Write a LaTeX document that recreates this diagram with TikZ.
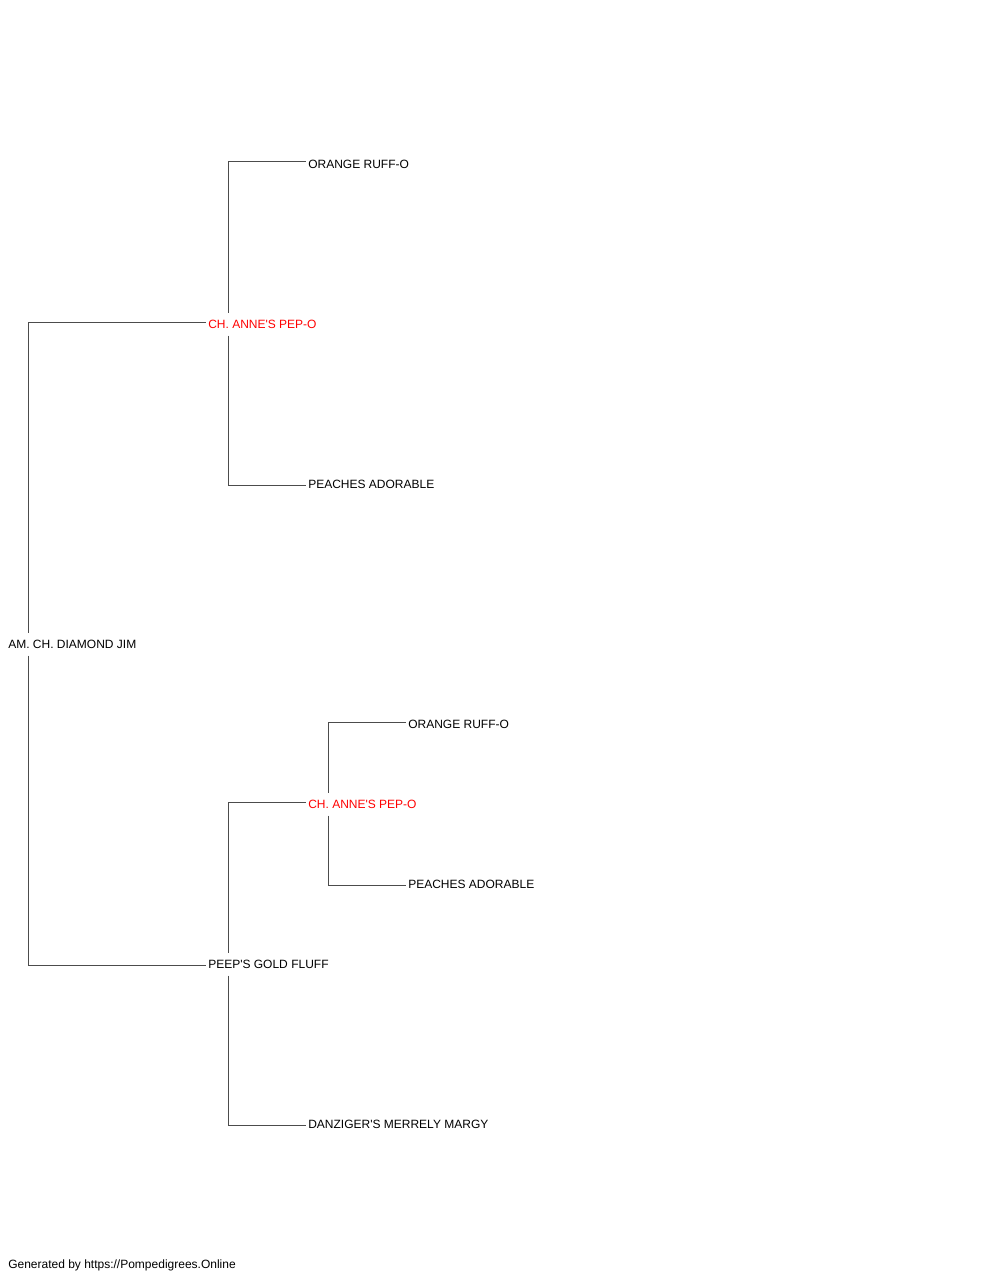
\documentclass[tikz,border=0pt]{standalone}
\usepackage{fontspec}
\setmainfont{Liberation Sans}
\begin{document}
\begin{tikzpicture}[x=0.75pt,y=-0.75pt,
  dog/.style={anchor=west,fill=white,inner xsep=1.5pt,inner ysep=1.5pt,
    text height=10.1pt,text depth=3.75pt,font=\fontsize{9}{11}\selectfont,text=black},
  champ/.style={dog,text=red},
  conn/.style={draw=black!70,line width=0.75pt}]
\useasboundingbox (0,0) rectangle (1000,1280);
\node[dog] (root) at (6,644) {AM. CH. DIAMOND JIM};
\node[champ] (pep1) at (206,324) {CH. ANNE\textquotesingle S PEP-O};
\node[dog] (pgf) at (206,964) {PEEP\textquotesingle S GOLD FLUFF};
\node[dog] (orr1) at (306,164) {ORANGE RUFF-O};
\node[dog] (pa1) at (306,484) {PEACHES ADORABLE};
\node[champ] (pep2) at (306,804) {CH. ANNE\textquotesingle S PEP-O};
\node[dog] (dmm) at (306,1124) {DANZIGER\textquotesingle S MERRELY MARGY};
\node[dog] (orr2) at (406,724) {ORANGE RUFF-O};
\node[dog] (pa2) at (406,884) {PEACHES ADORABLE};
\node[anchor=base west,inner sep=0pt,font=\fontsize{9}{11}\selectfont] (foot) at (8,1268) {Generated by https://Pompedigrees.Online};
\draw[conn] ([xshift=16.5pt]root.north west) |- ([yshift=1.5pt]pep1.west);
\draw[conn] ([xshift=16.5pt]root.south west) |- ([yshift=-0.75pt]pgf.west);
\draw[conn] ([xshift=16.5pt]pep1.north west) |- ([yshift=1.5pt]orr1.west);
\draw[conn] ([xshift=16.5pt]pep1.south west) |- ([yshift=-0.75pt]pa1.west);
\draw[conn] ([xshift=16.5pt]pgf.north west) |- ([yshift=1.5pt]pep2.west);
\draw[conn] ([xshift=16.5pt]pgf.south west) |- ([yshift=-0.75pt]dmm.west);
\draw[conn] ([xshift=16.5pt]pep2.north west) |- ([yshift=1.5pt]orr2.west);
\draw[conn] ([xshift=16.5pt]pep2.south west) |- ([yshift=-0.75pt]pa2.west);
\end{tikzpicture}
\end{document}
